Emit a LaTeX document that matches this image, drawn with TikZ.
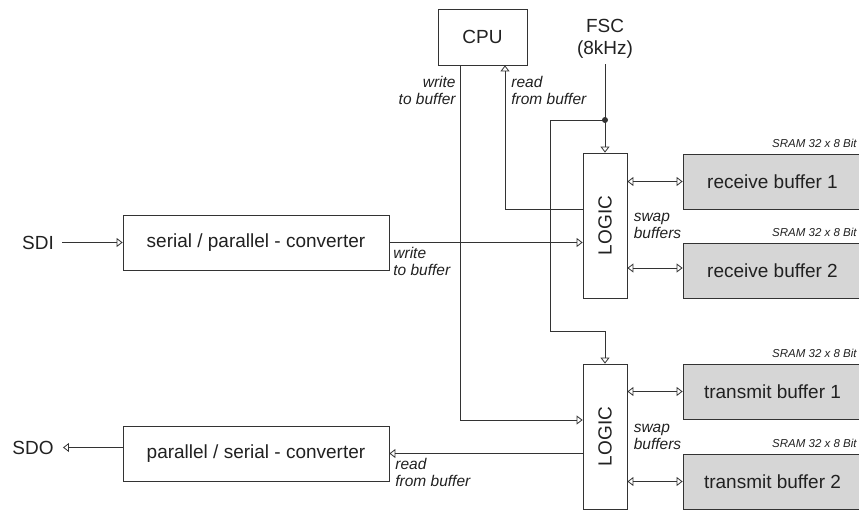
\documentclass[tikz,border=0pt]{standalone}
\usepackage{fontspec}
\setmainfont{Liberation Sans}
\usetikzlibrary{arrows.meta}
\definecolor{ln}{gray}{0.2}
\definecolor{tx}{gray}{0.13}
\definecolor{buf}{gray}{0.84}
\newcommand\mainsz{\fontsize{19}{22}\selectfont}
\newcommand\labsz{\fontsize{15.5}{17}\selectfont\itshape}
\newcommand\sramsz{\fontsize{11.5}{13}\selectfont\itshape}
\begin{document}
\begin{tikzpicture}[x=1pt,y=-1pt,line width=0.8pt,
  blk/.style={draw=ln,fill=white,inner sep=0pt,font=\mainsz,text=tx},
  bufbox/.style={draw=ln,fill=buf,inner sep=0pt,font=\mainsz,text=tx,minimum width=179pt,minimum height=55pt},
  logicbox/.style={draw=ln,fill=white,inner sep=0pt,minimum width=44pt,minimum height=145pt},
  txt/.style={inner sep=0pt,font=\mainsz,text=tx},
  lab/.style={inner sep=0pt,font=\labsz,text=tx},
  sramlab/.style={inner sep=0pt,font=\sramsz,text=tx,anchor=south east},
  arr/.style={draw=ln,-{Triangle[open,length=6pt,width=9pt]}},
  dbl/.style={draw=ln,{Triangle[open,length=6pt,width=9pt]}-{Triangle[open,length=6pt,width=9pt]}}]
\useasboundingbox (0,0) rectangle (859,510);

% blocks
\node[blk,minimum width=89pt,minimum height=56pt] (cpu) at (482.5,37) {CPU};
\node[txt,align=center] (fsc) at (605,38.5) {FSC\\(8kHz)};
\node[blk,minimum width=266pt,minimum height=55pt] (sp) at (256,242.5) {serial / parallel - converter};
\node[blk,minimum width=266pt,minimum height=55pt] (ps) at (256,453.5) {parallel / serial - converter};
\node[logicbox] (l1) at (605,225.5) {};
\node[txt,rotate=90] (l1t) at (l1.center) {LOGIC};
\node[logicbox] (l2) at (605,436.5) {};
\node[txt,rotate=90] (l2t) at (l2.center) {LOGIC};
\node[bufbox] (rb1) at (772.5,181.5) {receive buffer 1};
\node[bufbox] (rb2) at (772.5,270.5) {receive buffer 2};
\node[bufbox] (tb1) at (772.5,391.5) {transmit buffer 1};
\node[bufbox] (tb2) at (772.5,481.5) {transmit buffer 2};
\node[txt] (sdi) at (38,242.5) {SDI};
\node[txt] (sdo) at (33,447.5) {SDO};

% SRAM labels
\node[sramlab] (s1) at (857,148) {SRAM 32 x 8 Bit};
\node[sramlab] (s2) at (857,237) {SRAM 32 x 8 Bit};
\node[sramlab] (s3) at (857,358) {SRAM 32 x 8 Bit};
\node[sramlab] (s4) at (857,448) {SRAM 32 x 8 Bit};

% helper coordinates
\coordinate (dot) at (605,120);
\coordinate (xa) at (550,331.7);
\coordinate (cw) at (460.7,420);
\coordinate (cr) at (505,209);
\coordinate (y2) at (0,268);

% connectors
\draw[arr] ([yshift=-6pt]fsc.south) -- (l1.north);
\fill[ln] (dot) circle (3pt);
\draw[arr] (dot) -| (xa) -| (l2.north);
\draw[arr] (cpu.south -| cw) |- (l2.west |- cw);
\draw[arr] (l1.west |- cr) -| (cpu.south -| cr);
\draw[arr] ([xshift=8pt]sdi.east) -- (sp.west);
\draw[arr] (sp.east) -- (sp.east -| l1.west);
\draw[arr] (ps.east -| l2.west) -- (ps.east);
\draw[arr] (ps.west |- sdo) -- ([xshift=9pt]sdo.east);
\draw[dbl] (l1.east |- rb1.west) -- (rb1.west);
\draw[dbl] (l1.east |- y2) -- (rb2.west |- y2);
\draw[dbl] (l2.east |- tb1.west) -- (tb1.west);
\draw[dbl] (l2.east |- tb2.west) -- (tb2.west);

% italic labels
\node[lab,anchor=east,align=right] (lw1) at (456,90) {write\\to buffer};
\node[lab,anchor=west,align=left] (lr1) at (511,90) {read\\from buffer};
\node[lab,anchor=west,align=left] (lw2) at (393,261.5) {write\\to buffer};
\node[lab,anchor=west,align=left] (lr2) at (395,472.5) {read\\from buffer};
\node[lab,anchor=west,align=left] (sw1) at ([xshift=6pt]l1.east) {swap\\buffers};
\node[lab,anchor=west,align=left] (sw2) at ([xshift=6pt]l2.east) {swap\\buffers};
\end{tikzpicture}
\end{document}
